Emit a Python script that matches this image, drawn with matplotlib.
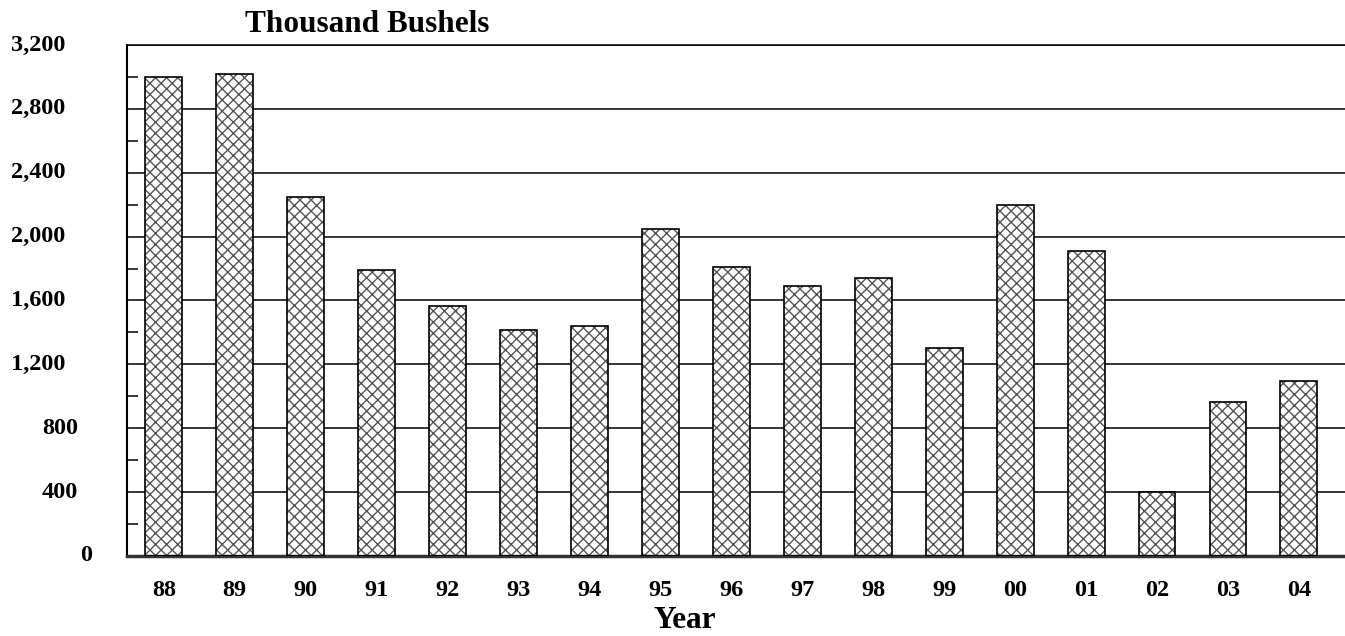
# Bar chart: production in thousand bushels by year
import matplotlib.pyplot as plt
import matplotlib.transforms as mtransforms
import numpy as np

years = ['88', '89', '90', '91', '92', '93', '94', '95', '96',
         '97', '98', '99', '00', '01', '02', '03', '04']
bushels = [3000, 3020, 2250, 1790, 1565, 1415, 1440, 2045, 1810,
           1690, 1740, 1300, 2200, 1910, 400, 965, 1095]
y_ticks = [0, 400, 800, 1200, 1600, 2000, 2400, 2800, 3200]

plt.rcParams['font.family'] = ['Liberation Serif', 'DejaVu Serif']
plt.rcParams['font.weight'] = 'bold'
plt.rcParams['hatch.linewidth'] = 1.0

fig = plt.figure(figsize=(13.45, 6.36), dpi=100)
ax = fig.add_axes([0.0944, 0.1258, 0.9056, 0.8035])

x = np.arange(len(years))
# hatch in grey, outline in black
ax.bar(x, bushels, width=0.52, color='white', edgecolor='#555555',
       hatch='xxx', linewidth=0, zorder=2)
ax.bar(x, bushels, width=0.52, fill=False, edgecolor='black',
       linewidth=1.2, zorder=3)

ax.set_xlim(-0.52, 16.65)
ax.set_ylim(0, 3200)
ax.set_yticks(y_ticks)
ax.set_yticklabels([])
ax.set_yticks(np.arange(200, 3200, 400), minor=True)
ax.yaxis.grid(True, color='black', linewidth=1.1, zorder=1)
ax.set_axisbelow(True)

# y labels sit at odd offsets in the original, so place them by hand
trans = mtransforms.blended_transform_factory(fig.transFigure, ax.transData)
for v in y_ticks:
    lab = f'{v:,}'
    right_px = {1: 92, 3: 78}.get(len(lab), 65)
    ax.text(right_px / 1345, v, lab, transform=trans, ha='right',
            va='center', fontsize=17.5, fontweight='bold')

ax.set_xticks(x)
ax.set_xticklabels(years)
ax.tick_params(axis='x', direction='in', length=8, width=1, color='#555555',
               pad=17, labelsize=17.5)
ax.tick_params(axis='y', which='major', direction='in', length=0)
ax.tick_params(axis='y', which='minor', direction='in', length=8, width=1.1)

ax.spines['right'].set_visible(False)
ax.spines['top'].set_linewidth(1.1)
ax.spines['left'].set_linewidth(1.5)
ax.spines['bottom'].set_linewidth(2.5)
ax.spines['bottom'].set_color('#333333')

fig.text(685 / 1345, 1 / 636, 'Year', ha='center', va='bottom',
         fontsize=22.5, fontweight='bold')
fig.text(367 / 1345, 1 - 32 / 636, 'Thousand Bushels', ha='center',
         va='baseline', fontsize=22.5, fontweight='bold')

plt.savefig('out.png', dpi=100)
